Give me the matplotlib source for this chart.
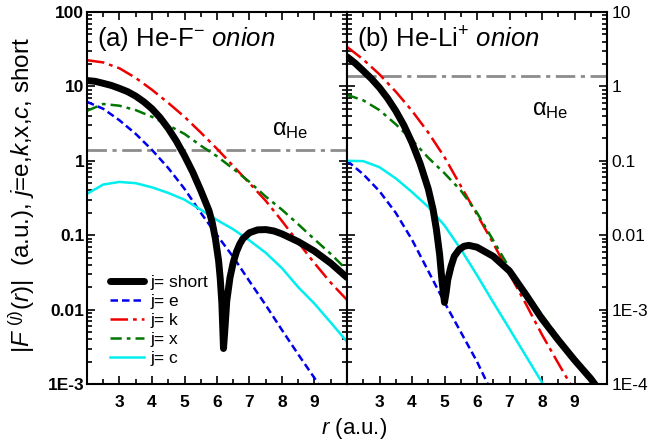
import numpy as np
import matplotlib
matplotlib.use('Agg')
import matplotlib.pyplot as plt

plt.rcParams['font.family'] = ['Liberation Sans', 'DejaVu Sans']
plt.rcParams['mathtext.fontset'] = 'custom'
plt.rcParams['mathtext.rm'] = 'Liberation Sans'
plt.rcParams['mathtext.it'] = 'Liberation Sans:italic'
plt.rcParams['mathtext.bf'] = 'Liberation Sans:bold'

ALPHA_HE = 1.383

# ---- panel (a) He-F- onion ----
a_short_r = [2.0, 2.25, 2.5, 2.75, 3.0, 3.25, 3.5, 3.75, 4.0, 4.25, 4.5, 4.75, 5.0, 5.25, 5.5, 5.75,
             5.85, 5.95, 6.05, 6.1, 6.15, 6.2, 6.25, 6.3, 6.4, 6.5, 6.6, 6.7, 6.8, 7.0, 7.25, 7.5, 7.75,
             8.0, 8.5, 9.0, 9.5, 10.0]
a_short = [12.0, 11.7, 11.0, 10.3, 9.4, 8.5, 7.4, 6.2, 5.0, 3.8, 2.72, 1.84, 1.17, 0.71, 0.4, 0.216,
           0.15, 0.09, 0.045, 0.026, 0.012, 0.003, 0.006, 0.013, 0.027, 0.043, 0.06, 0.076, 0.09, 0.108, 0.118,
           0.119, 0.114, 0.104, 0.082, 0.061, 0.042, 0.027]

a_r = [2.0, 2.5, 3.0, 3.5, 4.0, 4.5, 5.0, 5.5, 6.0, 6.5, 7.0, 7.5, 8.0, 8.5, 9.0, 9.5, 10.0]
a_e = [6.2, 5.0, 3.5, 2.3, 1.4, 0.8, 0.42, 0.2, 0.1, 0.051, 0.024, 0.0115, 0.0053, 0.0025, 0.0012, 0.00055, 0.00025]
a_k = [22.5, 21.0, 17.5, 13.0, 9.0, 6.0, 3.9, 2.4, 1.45, 0.85, 0.5, 0.29, 0.155, 0.08, 0.042, 0.023, 0.0135]
a_x = [4.7, 5.8, 5.5, 4.8, 3.9, 3.0, 2.3, 1.6, 1.15, 0.78, 0.52, 0.33, 0.22, 0.14, 0.088, 0.056, 0.034]
a_c = [0.36, 0.48, 0.52, 0.5, 0.44, 0.37, 0.3, 0.22, 0.16, 0.12, 0.085, 0.058, 0.036, 0.02, 0.012, 0.0067, 0.0037]

# ---- panel (b) He-Li+ onion ----
b_short_r = [2.0, 2.25, 2.5, 2.75, 3.0, 3.25, 3.5, 3.75, 4.0, 4.25, 4.5, 4.65, 4.75, 4.85, 4.92, 5.0,
             5.05, 5.1, 5.2, 5.3, 5.45, 5.6, 5.75, 6.0, 6.5, 7.0, 7.5, 8.0, 8.5, 9.0, 9.5, 9.7]
b_short = [2.5, 2.05, 1.62, 1.27, 0.96, 0.69, 0.47, 0.3, 0.175, 0.092, 0.042, 0.022, 0.012, 0.0055, 0.0025, 0.00125,
           0.0017, 0.0025, 0.0038, 0.0052, 0.0064, 0.0071, 0.0073, 0.0069, 0.0052, 0.0033, 0.0016, 0.00075,
           0.00039, 0.00021, 0.000118, 0.00009]

b_r = [2.0, 2.5, 3.0, 3.5, 4.0, 4.5, 5.0, 5.5, 6.0, 6.5, 7.0, 7.5, 8.0, 8.5, 9.0, 9.5, 10.0]
b_e = [0.1, 0.066, 0.039, 0.02, 0.0087, 0.0033, 0.00125, 0.0005, 0.0002, 0.00007, 0.000025, 9e-6, 3e-6, 1e-6, 4e-7, 1.5e-7, 6e-8]
b_k = [3.4, 2.3, 1.45, 0.85, 0.47, 0.24, 0.112, 0.046, 0.019, 0.0078, 0.003, 0.0012, 0.00046, 0.00019, 0.00008, 0.00003, 0.000012]
b_x = [0.77, 0.65, 0.48, 0.31, 0.19, 0.11, 0.068, 0.04, 0.02, 0.0085, 0.0036, 0.0017, 0.00085, 0.00043, 0.00022, 0.000112, 0.000057]
b_c = [0.1, 0.099, 0.082, 0.058, 0.038, 0.024, 0.0135, 0.0065, 0.0029, 0.00125, 0.00055, 0.00024, 0.000105, 0.000045, 0.000019, 0.000008, 0.0000034]

styles = {
    'short': dict(color='black', lw=5, ls='-', solid_capstyle='round', solid_joinstyle='round'),
    'e': dict(color='#0000ee', lw=1.8, ls=(0, (3, 1.6))),
    'k': dict(color='#ee0000', lw=1.8, ls=(0, (7, 2, 1.5, 2))),
    'x': dict(color='#007700', lw=1.8, ls=(0, (4.5, 2, 1.5, 2))),
    'c': dict(color='#00eeee', lw=1.8, ls='-'),
}

fig = plt.figure(figsize=(6.52, 4.45), dpi=100)
w = 260 / 652
axa = fig.add_axes([87 / 652, 1 - 384 / 445, w, 372 / 445])
axb = fig.add_axes([347 / 652, 1 - 384 / 445, w, 372 / 445])


def draw(ax, sr, s, r, e, k, x, c):
    ax.plot(r, e, label='j= e', **styles['e'], zorder=2)
    ax.plot(r, k, label='j= k', **styles['k'], zorder=2)
    ax.plot(r, x, label='j= x', **styles['x'], zorder=2)
    ax.plot(r, c, label='j= c', **styles['c'], zorder=2)
    ax.plot(sr, s, label='j= short', **styles['short'], zorder=3)
    ax.axhline(ALPHA_HE, color='#8c8c8c', lw=2, ls=(0, (7, 2, 1.5, 2)), zorder=1)
    ax.set_yscale('log')
    ax.set_xlim(2, 10)
    ax.set_xticks([3, 4, 5, 6, 7, 8, 9])
    ax.set_xticks(np.arange(2.5, 10, 0.5), minor=True)
    for sp in ax.spines.values():
        sp.set_linewidth(1.5)
    ax.tick_params(which='both', direction='in', top=True, bottom=True, left=True, right=True, width=1.2)
    ax.tick_params(which='major', length=6)
    ax.tick_params(which='minor', length=3.5)
    ax.tick_params(axis='x', which='major', labelsize=12.5, pad=8)
    for t in ax.get_xticklabels():
        t.set_fontweight('bold')


draw(axa, a_short_r, a_short, a_r, a_e, a_k, a_x, a_c)
draw(axb, b_short_r, b_short, b_r, b_e, b_k, b_x, b_c)

axa.set_ylim(1e-3, 100)
axa.set_yticks([1e-3, 1e-2, 1e-1, 1, 10, 100])
axa.set_yticklabels(['1E-3', '0.01', '0.1', '1', '10', '100'], fontsize=12.5, fontweight='bold')
axa.tick_params(axis='y', which='both', labelleft=True, labelright=False, pad=2)

axb.set_ylim(1e-4, 10)
axb.set_yticks([1e-4, 1e-3, 1e-2, 1e-1, 1, 10])
axb.set_yticklabels(['1E-4', '1E-3', '0.01', '0.1', '1', '10'], fontsize=12.5)
axb.tick_params(axis='y', which='both', labelleft=False, labelright=True)

axa.text(0.04, 0.965, r'(a) He-F$^{\mathregular{-}}$ $\it{onion}$', transform=axa.transAxes,
         fontsize=18.5, va='top', ha='left')
axb.text(0.04, 0.965, r'(b) He-Li$^{\mathregular{+}}$ $\it{onion}$', transform=axb.transAxes,
         fontsize=18.5, va='top', ha='left')

axa.text(7.7, 1.85, r'$\mathregular{\alpha_{He}}$', fontsize=17, ha='left', va='bottom')
axb.text(7.7, 0.34, r'$\mathregular{\alpha_{He}}$', fontsize=17, ha='left', va='bottom')

h, l = axa.get_legend_handles_labels()
order = [4, 0, 1, 2, 3]
axa.legend([h[i] for i in order], [l[i] for i in order], loc='lower left',
           bbox_to_anchor=(0.06, 0.03), frameon=False, fontsize=12.5,
           handlelength=2.0, handletextpad=0.35, labelspacing=0.22, borderaxespad=0)

fig.text(354 / 652, 0.008, r'$r$ (a.u.)', fontsize=16, ha='center', va='bottom')
fig.text(0.01, 1 - 195 / 445, r'|$F^{\ (j)}(r)$|  (a.u.), $j$=e,$k$,x,$c$, short',
         fontsize=17.5, rotation=90, ha='left', va='center')

fig.savefig('out.png', dpi=100)
